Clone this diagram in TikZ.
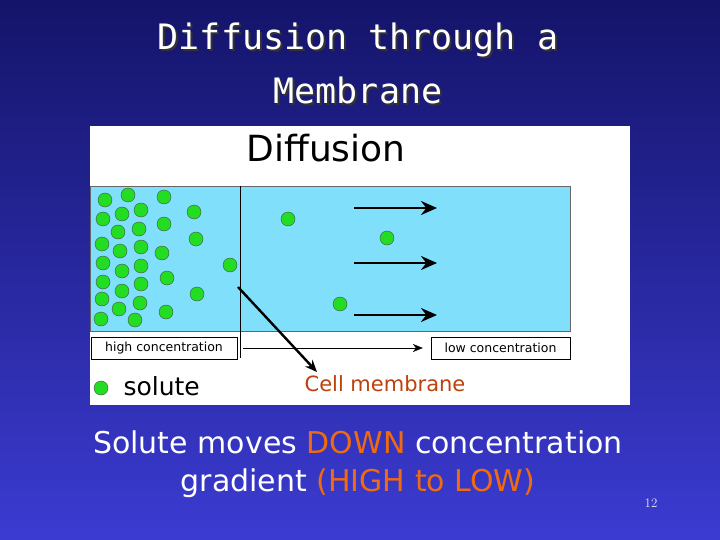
\documentclass[tikz,border=0pt]{standalone}
\usepackage{fontspec}
\setmainfont{DejaVu Sans}
\setmonofont{DejaVu Sans Mono}
\usetikzlibrary{arrows.meta}
\definecolor{bgtop}{HTML}{14146A}
\definecolor{bgbot}{HTML}{3B3BD2}
\definecolor{water}{HTML}{80E0FC}
\definecolor{dotgreen}{HTML}{22DD22}
\definecolor{membr}{HTML}{C0400C}
\definecolor{hot}{HTML}{F06A10}
\tikzset{
    dot/.style={circle, draw=black!70, fill=dotgreen, minimum size=14pt, inner sep=0pt},
    labelbox/.style={draw, thin, fill=white, inner sep=2pt, font=\fontsize{12.5}{13}\selectfont},
    flow/.style={-{Stealth[length=16pt,width=14pt]}, line width=2.2pt},
}
\begin{document}
\begin{tikzpicture}[x=1pt, y=-1pt]
    \useasboundingbox (0,0) rectangle (720,540);
    \shade[top color=bgtop, bottom color=bgbot] (0,0) rectangle (720,540);

    % title
    \foreach \t/\y in {Diffusion through a/40, Membrane/90}{
        \node[black!80, font=\ttfamily\fontsize{35}{36}\selectfont] at (360,\y+2) {\t};
        \node[white, font=\ttfamily\fontsize{35}{36}\selectfont] (title) at (358,\y) {\t};
    }

    % panel
    \fill[white] (90,126) rectangle (630,405);
    \node[font=\fontsize{36}{38}\selectfont] (head) at (326,148) {Diffusion};
    \draw[black!60, fill=water] (90,186) rectangle (570,331);
    \draw[thin] (240,186) -- (240,358);

    \foreach \x/\y in {105/200, 128/195, 164/197, 103/219, 122/214, 141/210,
        164/224, 194/212, 118/232, 139/229, 196/239, 102/244, 120/251, 141/247,
        162/253, 288/219, 387/238, 103/263, 122/271, 141/266, 230/265, 167/278,
        103/282, 122/291, 141/284, 197/294, 340/304, 102/299, 119/309, 140/303,
        166/312, 101/319, 135/320}
        \node[dot] at (\x,\y) {};

    \foreach \y in {208,263,315}{
        \coordinate (s\y) at (354,\y);
        \coordinate (e\y) at (437,\y);
        \draw[flow] (s\y) -- (e\y);
    }

    \node[labelbox, minimum width=146pt, minimum height=22pt] (high) at (164,348) {high concentration};
    \node[labelbox, minimum width=139pt, minimum height=22pt] (low) at (500.5,348) {low concentration};
    \draw[-{Stealth[length=10pt,width=8pt]}, thin] ([xshift=6pt]high.east) -- ([xshift=-8pt]low.west);

    \node[text=membr, font=\fontsize{21}{22}\selectfont] (cell) at (385,384) {Cell membrane};
    \coordinate (touch) at (238,287);
    \draw[-{Stealth[length=12pt,width=10pt]}, line width=2.4pt] (touch) -- (317,372);

    \node[dot] (key) at (101,388) {};
    \node[anchor=west, font=\fontsize{25}{26}\selectfont] (solute) at (120,386) {solute};

    % caption
    \node[white, font=\fontsize{30}{32}\selectfont] (line1) at (358,442)
        {Solute moves \textcolor{hot}{DOWN} concentration};
    \node[white, font=\fontsize{30}{32}\selectfont] (line2) at (358,483)
        {gradient \textcolor{hot}{(HIGH to LOW)}};
    \node[white!80!gray, font=\fontfamily{lmr}\fontsize{13}{14}\selectfont] (page) at (651,503) {12};
\end{tikzpicture}
\end{document}
